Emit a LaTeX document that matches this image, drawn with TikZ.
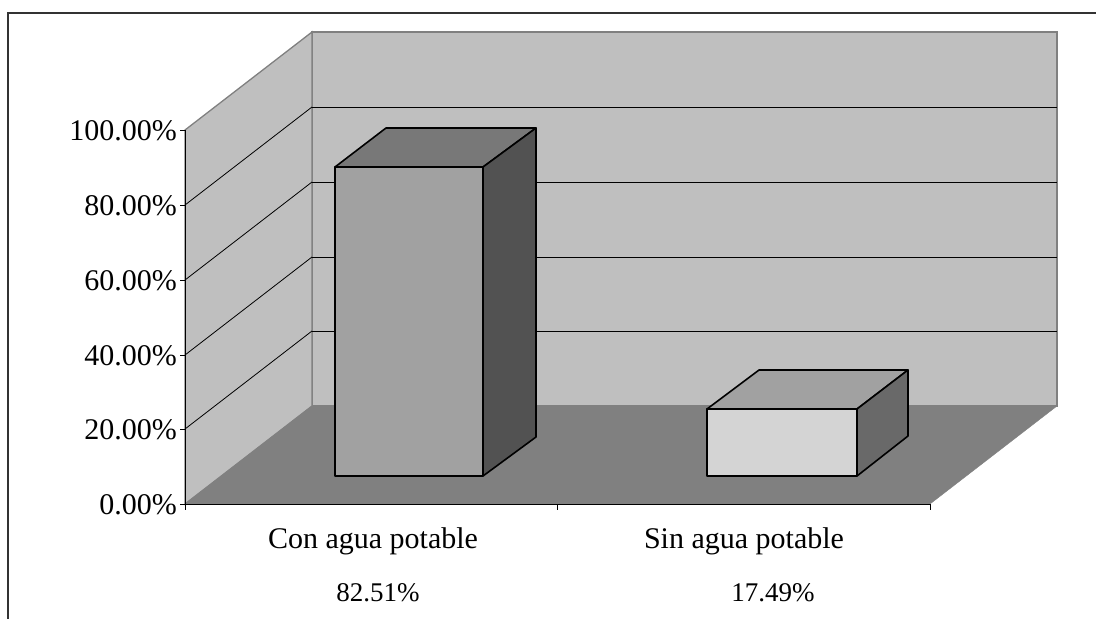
\documentclass[tikz,border=0pt]{standalone}
\usepackage{fontspec}
\setmainfont{Liberation Serif}
\usetikzlibrary{calc}

\tikzset{
  wall/.style={fill=black!25, draw=black!50, line width=1.3pt},
  grid/.style={black, line width=0.8pt},
  barline/.style={draw=black, line width=1.6pt, line join=round},
  ylab/.style={anchor=base east, inner sep=0pt, font=\fontsize{30}{32}\selectfont},
  catlab/.style={anchor=base, inner sep=0pt, font=\fontsize{30}{32}\selectfont},
  pctlab/.style={anchor=base, inner sep=0pt, font=\fontsize{27}{29}\selectfont}
}

\begin{document}
\begin{tikzpicture}[x=1pt, y=-1pt]
\useasboundingbox (0,0) rectangle (1096,619);
\draw[line width=2pt, black!80] (8,619)--(8,13)--(1096,13); %%Frame

\draw[wall] (312,406)--(312,32)--(1057,32)--(1057,406)--cycle; %%Back
\draw[wall] (185,504)--(185,130)--(312,32)--(312,406)--cycle; %%Side
\draw[fill=black!50, draw=black!50] (185,504)--(930,504)--(1057,406)--(312,406)--cycle; %%Floor

\draw[grid] (312,331)--(1057,331); %%Back 20
\draw[grid] (312,257)--(1057,257); %%Back 40
\draw[grid] (312,182)--(1057,182); %%Back 60
\draw[grid] (312,107)--(1057,107); %%Back 80
\draw[grid] (185,429)--(312,331); %%Side 20
\draw[grid] (185,355)--(312,257); %%Side 40
\draw[grid] (185,280)--(312,182); %%Side 60
\draw[grid] (185,205)--(312,107); %%Side 80

%%Con agua potable
\draw[barline, fill=black!37] (335,476)--(483,476)--(483,167)--(335,167)--cycle;
\draw[barline, fill=black!53] (335,167)--(386,128)--(536,128)--(483,167)--cycle;
\draw[barline, fill=black!68] (483,476)--(536,437)--(536,128)--(483,167)--cycle;

%%Sin agua potable
\draw[barline, fill=black!17] (707,476)--(857,476)--(857,409)--(707,409)--cycle;
\draw[barline, fill=black!37] (707,409)--(759,370)--(908,370)--(857,409)--cycle;
\draw[barline, fill=black!59] (857,476)--(908,436)--(908,370)--(857,409)--cycle;

\draw[line width=1pt] (185,130)--(185,510); %%Left axis
\draw[line width=1pt] (185,504)--(930,504); %%Bottom axis
\draw[line width=1pt] (180,504)--(185,504) (180,429)--(185,429) (180,355)--(185,355)
  (180,280)--(185,280) (180,205)--(185,205) (180,130)--(185,130);
\draw[line width=1pt] (557,504)--(557,510) (930,504)--(930,510);

\node[ylab] (y0) at (177,514) {0.00\%};
\node[ylab] (y20) at (177,439) {20.00\%};
\node[ylab] (y40) at (177,365) {40.00\%};
\node[ylab] (y60) at (177,290) {60.00\%};
\node[ylab] (y80) at (177,215) {80.00\%};
\node[ylab] (y100) at (177,140) {100.00\%};

\node[catlab] (con) at (373,548) {Con agua potable};
\node[catlab] (sin) at (744,548) {Sin agua potable};
\node[pctlab] (pcon) at (378,601) {82.51\%};
\node[pctlab] (psin) at (773,601) {17.49\%};

\end{tikzpicture}
\end{document}
